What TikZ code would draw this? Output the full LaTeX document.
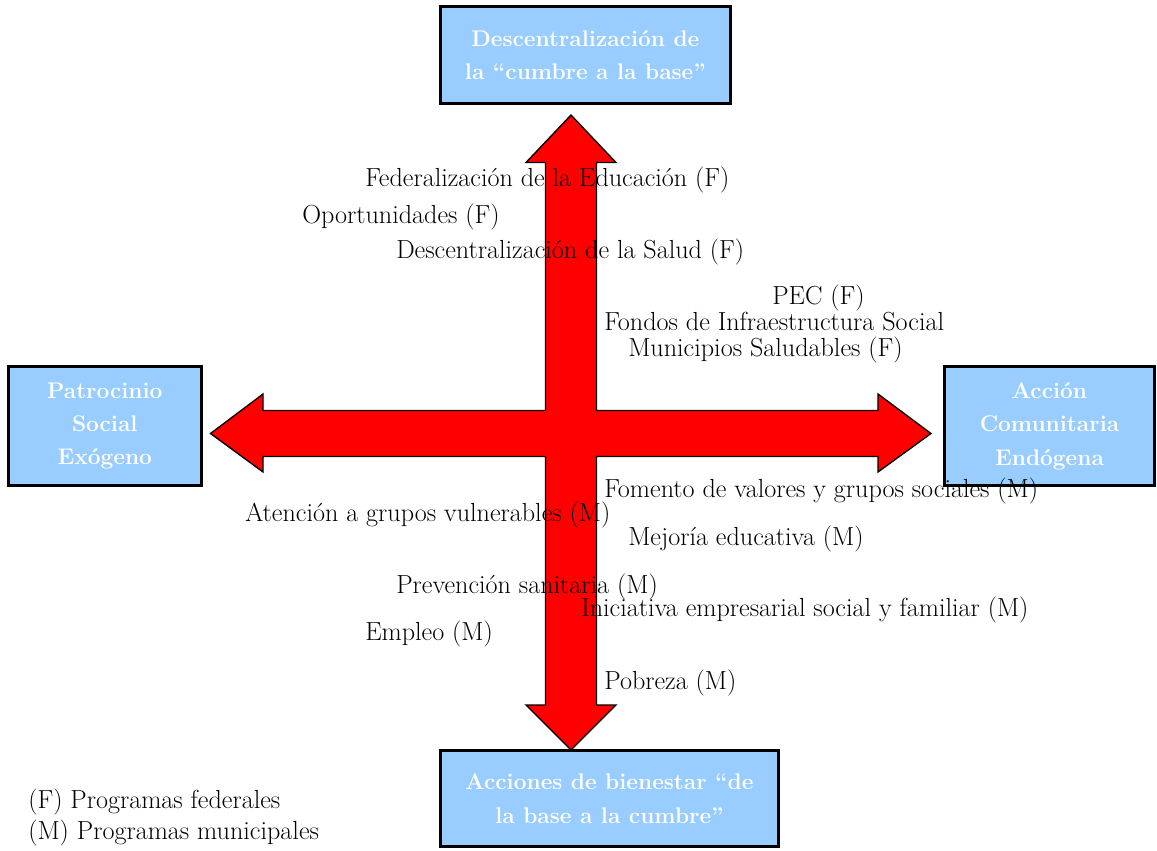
\documentclass[tikz,border=0pt]{standalone}
\usepackage{fontspec}
\tikzset{
  polo/.style = {
    draw=black, line width=2.2pt,
    fill={rgb,255:red,153;green,204;blue,255},
    text=white, align=center, inner sep=0pt,
    font=\fontsize{17}{25}\selectfont\bfseries
  },
  programa/.style = {
    anchor=west, inner sep=0pt,
    font=\fontsize{19.6}{22}\selectfont
  }
}

\begin{document}
\begin{tikzpicture}[x=0.75pt,y=-0.75pt]
  \useasboundingbox (0,0) rectangle (1157,850);
  % cross of arrows
  \draw[fill=red,line width=1pt,line join=miter]
    (571,115) -- (616,162.5) -- (596.5,162.5) -- (596.5,410.5)
    -- (878,410.5) -- (878,394) -- (931,433.5) -- (878,472) -- (878,456.5)
    -- (596.5,456.5) -- (596.5,705) -- (616,705) -- (571,750) -- (526,705)
    -- (545.5,705) -- (545.5,456.5) -- (263,456.5) -- (263,472)
    -- (210.5,433.5) -- (263,394) -- (263,410.5) -- (545.5,410.5)
    -- (545.5,162.5) -- (526,162.5) -- cycle;
  % poles
  \node[polo,minimum width=217pt,minimum height=72.75pt] (cumbre) at (585.4,55)
    {Descentralización de\\la “cumbre a la base”};
  \node[polo,minimum width=253.5pt,minimum height=72pt] (base) at (609.5,798.5)
    {Acciones de bienestar “de\\la base a la cumbre”};
  \node[polo,minimum width=144.7pt,minimum height=89pt] (exogeno) at (104.8,426)
    {Patrocinio\\Social\\Exógeno};
  \node[polo,minimum width=157.5pt,minimum height=89pt] (endogeno) at (1049.5,426)
    {Acción\\Comunitaria\\Endógena};
  % programs
  \foreach \x/\y/\nm/\t in {
      365/180/fed/Federalización de la Educación (F),
      302/217/opo/Oportunidades (F),
      396/252/sal/Descentralización de la Salud (F),
      772/298/pec/PEC (F),
      604/322/fis/Fondos de Infraestructura Social,
      628/350/mun/Municipios Saludables (F),
      604/491/fom/Fomento de valores y grupos sociales (M),
      245/515/ate/Atención a grupos vulnerables (M),
      628/539/mej/Mejoría educativa (M),
      396/587/pre/Prevención sanitaria (M),
      581/610/ini/Iniciativa empresarial social y familiar (M),
      365/634/emp/Empleo (M),
      604/683/pob/Pobreza (M)}
    \node[programa] (\nm) at (\x,\y) {\t};
  % legend
  \node[programa] (leyF) at (28,802) {(F) Programas federales};
  \node[programa] (leyM) at (28,833) {(M) Programas municipales};
\end{tikzpicture}
\end{document}
